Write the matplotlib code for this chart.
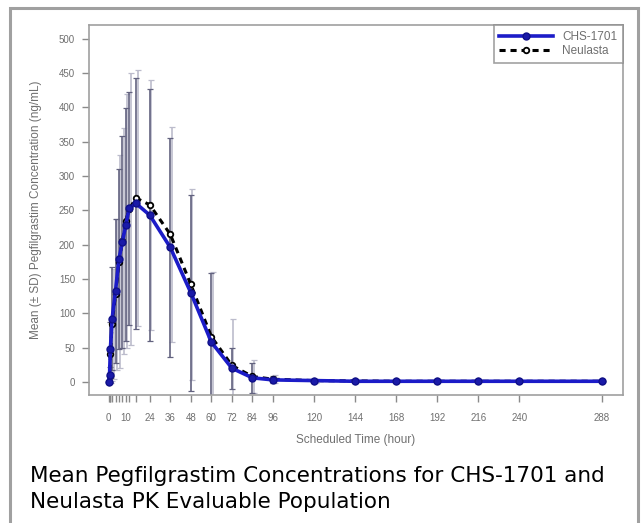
import matplotlib
matplotlib.use('Agg')
import matplotlib.pyplot as plt
import numpy as np

# sampling times (hour)
times = [0, 0.5, 1, 2, 4, 6, 8, 10, 12, 16, 24, 36, 48, 60, 72, 84, 96,
         120, 144, 168, 192, 216, 240, 288]

chs_mean = [0, 10, 48, 92, 133, 179, 204, 229, 253, 260, 243, 196, 130, 58,
            20, 6, 3, 2, 1, 1, 1, 1, 1, 1]
chs_sd = [0, 12, 40, 75, 105, 131, 155, 170, 170, 183, 184, 160, 143, 100,
          30, 22, 5, 2, 1, 1, 1, 1, 1, 1]

neu_mean = [0, 8, 40, 85, 128, 175, 205, 235, 252, 268, 258, 215, 142, 66,
            24, 8, 4, 2, 1.5, 1, 1, 1, 1, 1]
neu_sd = [0, 10, 38, 80, 110, 155, 165, 185, 198, 186, 182, 157, 139, 94,
          68, 24, 6, 3, 2, 1, 1, 1, 1, 1]

xtick_labels = {0: '0', 10: '10', 24: '24', 36: '36', 48: '48', 60: '60',
                72: '72', 84: '84', 96: '96', 120: '120', 144: '144',
                168: '168', 192: '192', 216: '216', 240: '240', 288: '288'}
yticks = [0, 50, 100, 150, 200, 250, 300, 350, 400, 450, 500]

W, H = 641, 523
fig = plt.figure(figsize=(W / 100, H / 100), dpi=100)

# outer frame of the screenshot
fig.patches.append(plt.Rectangle((10 / W, -0.05), 628 / W, 1.05 - 8 / H,
                                 transform=fig.transFigure, fill=False,
                                 edgecolor='#a0a0a0', lw=2.2))

ax = fig.add_axes([89 / W, 1 - 395 / H, (623 - 89) / W, (395 - 25) / H])
grey = '#8a8a8a'
txt = '#6f6f6f'
plotfont = 'Liberation Sans'

x = np.array(times, dtype=float)

# error bars (Neulasta slightly dodged to the right)
ax.errorbar(x + 0.9, neu_mean, yerr=neu_sd, fmt='none', ecolor='#bcbccc',
            elinewidth=1.2, capsize=2.5, capthick=0.9, zorder=1)
ax.errorbar(x, chs_mean, yerr=chs_sd, fmt='none', ecolor='#62627f',
            elinewidth=1.2, capsize=2.5, capthick=0.9, zorder=2)

ax.plot(x, neu_mean, color='black', ls=(0, (2, 1.6)), lw=2.2, marker='o',
        ms=4, mfc='white', mec='black', mew=1.3, zorder=3, label='Neulasta')
ax.plot(x, chs_mean, color='#1c1cc8', lw=2.6, marker='o', ms=5,
        mfc='#1a1aa8', mec='#10108a', zorder=4, label='CHS-1701')

ax.set_xlim(-11.5, 300.5)
ax.set_ylim(-19, 520)

ax.set_xticks(times)
ax.set_xticklabels([xtick_labels.get(t, '') for t in times])
ax.set_yticks(yticks)
ax.tick_params(colors=grey, labelcolor=txt, length=5, width=1,
               labelsize=7, direction='out')
ax.tick_params(axis='x', pad=8)
ax.tick_params(axis='y', pad=5)
for lab in ax.get_xticklabels() + ax.get_yticklabels():
    lab.set_family(plotfont)
for s in ax.spines.values():
    s.set_color('#a0a0a0')
    s.set_linewidth(1.2)

ax.set_xlabel('Scheduled Time (hour)', fontsize=8.5, color=txt,
              family=plotfont, labelpad=8)
ax.set_ylabel('Mean (\u00b1 SD) Pegfilgrastim Concentration (ng/mL)',
              fontsize=8.5, color=txt, family=plotfont, labelpad=12)

h, l = ax.get_legend_handles_labels()
leg = ax.legend(h[::-1], l[::-1], loc='upper right',
                frameon=True, fancybox=False, borderaxespad=0,
                handlelength=4.5, labelspacing=0.15, borderpad=0.5,
                prop={'family': plotfont, 'size': 8.5})
leg.get_frame().set_edgecolor('#8a8a8a')
leg.get_frame().set_linewidth(1.2)
for t in leg.get_texts():
    t.set_color(txt)

fig.text(30 / W, 1 - 476 / H,
         'Mean Pegfilgrastim Concentrations for CHS-1701 and',
         fontsize=15.5, family='DejaVu Sans', va='center', ha='left')
fig.text(30 / W, 1 - 502 / H, 'Neulasta PK Evaluable Population',
         fontsize=15.5, family='DejaVu Sans', va='center', ha='left')

fig.savefig('out.png', dpi=100)
